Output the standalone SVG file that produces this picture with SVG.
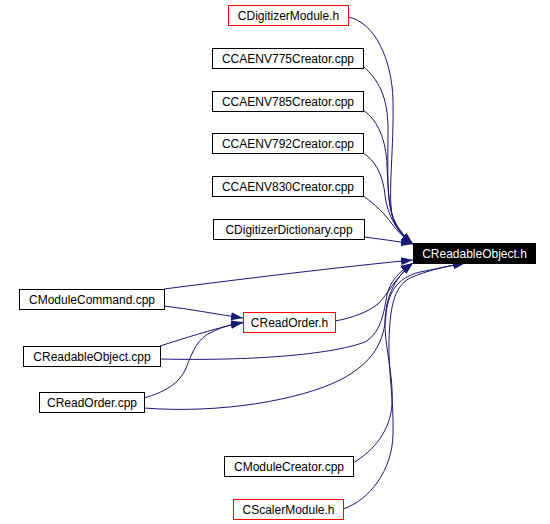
<svg xmlns="http://www.w3.org/2000/svg" width="550" height="524" viewBox="0 0 550 524">
<defs>
<marker id="arr" viewBox="0 0 12 8" refX="12" refY="4" markerWidth="12" markerHeight="8" markerUnits="userSpaceOnUse" orient="auto">
<path d="M0,0 L12,4 L0,8 z" fill="#191970"/>
</marker>
<style>
.n rect{fill:#ffffff;stroke:#000000;stroke-width:1}
.n.red rect{stroke:#ff0000}
.n.blk rect{fill:#000000}
.n text{font-family:"Liberation Sans",Arial,sans-serif;font-size:12px;fill:#000000;text-anchor:middle}
.n.blk text{fill:#ffffff}
.e path{fill:none;stroke:#191970;stroke-width:1;marker-end:url(#arr)}
</style>
</defs>
<rect x="0" y="0" width="550" height="524" fill="#ffffff"/>
<g class="e" id="edges">
<path d="M348,17 C375,22 392,60 393,100 C394,150 388,190 392,215 C395,228 402,236 413,244"/>
<path d="M363,66 C378,80 388,95 388,130 C388,175 386,205 395,222 C400,231 405,237 413,244"/>
<path d="M363,110 C378,120 386,140 387,165 C388,195 390,215 397,226 C401,233 405,238 413,244"/>
<path d="M363,153 C375,160 383,175 385,195 C387,215 397,232 413,244"/>
<path d="M363,196 C375,204 386,215 392,224 C398,232 404,238 413,244"/>
<path d="M364,237 C380,239 395,241 413,244"/>
<path d="M164,289 C250,278 340,267 413,260"/>
<path d="M164,306 C190,309 215,314 243,318"/>
<path d="M160,346 C185,338 210,330 243,322"/>
<path d="M144,398 C165,392 180,383 186,368 C193,350 198,338 212,332 C222,327 232,324 243,323"/>
<path d="M335,321 C352,318 368,312 378,304 C388,294 395,278 413,263"/>
<path d="M160,359 C250,361 330,355 365,342 C382,332 384,310 387,295 C390,282 398,272 413,263"/>
<path d="M353,463 C375,450 390,430 392,405 C394,375 384,345 385,320 C386,300 392,280 413,263"/>
<path d="M144,408 C220,414 300,400 340,380 C375,362 384,340 386,315 C388,295 395,278 420,272 C435,269 450,266 465,263"/>
<path d="M343,509 C370,500 392,470 393,435 C394,400 388,370 389,340 C390,310 393,287 410,278 C428,270 448,266 465,263"/>
</g>
<g class="n red" id="node-CDigitizerModule_h"><rect x="228.5" y="5.5" width="120" height="20"/><text x="288.5" y="20">CDigitizerModule.h</text></g>
<g class="n" id="node-CCAENV775Creator_cpp"><rect x="212.5" y="48.5" width="151" height="20"/><text x="288" y="63">CCAENV775Creator.cpp</text></g>
<g class="n" id="node-CCAENV785Creator_cpp"><rect x="212.5" y="91.5" width="151" height="20"/><text x="288" y="106">CCAENV785Creator.cpp</text></g>
<g class="n" id="node-CCAENV792Creator_cpp"><rect x="212.5" y="133.5" width="151" height="20"/><text x="288" y="148">CCAENV792Creator.cpp</text></g>
<g class="n" id="node-CCAENV830Creator_cpp"><rect x="212.5" y="176.5" width="151" height="20"/><text x="288" y="191">CCAENV830Creator.cpp</text></g>
<g class="n" id="node-CDigitizerDictionary_cpp"><rect x="213.5" y="219.5" width="151" height="20"/><text x="289" y="234">CDigitizerDictionary.cpp</text></g>
<g class="n blk" id="node-CReadableObject_h"><rect x="413.5" y="243.5" width="122" height="20"/><text x="474.5" y="258">CReadableObject.h</text></g>
<g class="n" id="node-CModuleCommand_cpp"><rect x="19.5" y="289.5" width="145" height="20"/><text x="92" y="304">CModuleCommand.cpp</text></g>
<g class="n red" id="node-CReadOrder_h"><rect x="243.5" y="312.5" width="92" height="20"/><text x="289.5" y="327">CReadOrder.h</text></g>
<g class="n" id="node-CReadableObject_cpp"><rect x="23.5" y="346.5" width="137" height="20"/><text x="92" y="361">CReadableObject.cpp</text></g>
<g class="n" id="node-CReadOrder_cpp"><rect x="39.5" y="392.5" width="105" height="20"/><text x="92" y="407">CReadOrder.cpp</text></g>
<g class="n" id="node-CModuleCreator_cpp"><rect x="224.5" y="456.5" width="129" height="20"/><text x="289" y="471">CModuleCreator.cpp</text></g>
<g class="n red" id="node-CScalerModule_h"><rect x="233.5" y="499.5" width="110" height="20"/><text x="288.5" y="514">CScalerModule.h</text></g>
</svg>
